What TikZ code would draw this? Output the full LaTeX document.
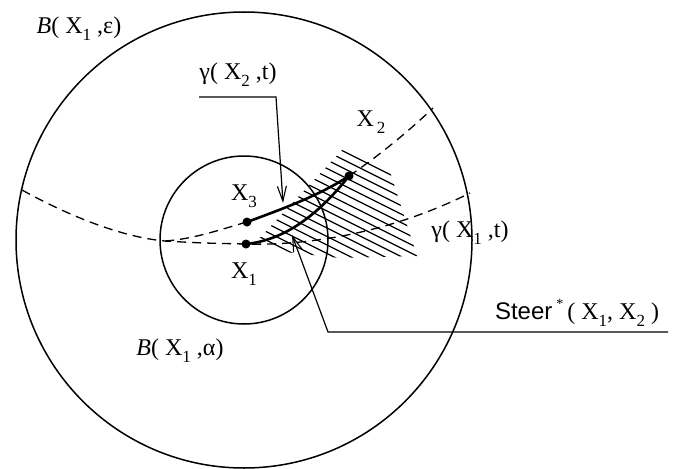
\documentclass[tikz,border=0pt]{standalone}
\usepackage{fontspec}
\setmainfont{Liberation Serif}
\newfontfamily\arialf{Liberation Sans}
\usetikzlibrary{arrows.meta}
\newcommand{\lowi}[1]{\raisebox{-0.28em}{\fontsize{17}{17}\selectfont #1}}
\tikzset{
  circ/.style={line width=1.5pt},
  traj/.style={line width=2.6pt},
  dsh/.style={line width=1.3pt, dash pattern=on 9pt off 6pt},
  hatch/.style={line width=1.2pt},
  lead/.style={line width=1.2pt},
  dot/.style={circle, fill=black, inner sep=0pt, minimum size=9pt},
  lbl/.style={inner sep=0pt, font=\fontsize{24}{26}\selectfont},
  tip/.style={-{Straight Barb[length=15pt,width=9pt,line width=1.1pt]}}
}
\begin{document}
\begin{tikzpicture}[x=1pt,y=-1pt]
\useasboundingbox (0,0) rectangle (679,468);
% circles
\coordinate (C) at (244,240);
\draw[circ] (C) circle[radius=228];
\draw[circ] (C) circle[radius=84];
% points
\node[dot] (X1) at (246,244) {};
\node[dot] (X3) at (247,222) {};
\node[dot] (X2) at (349,176) {};
\coordinate (L) at (22,190);
\coordinate (M) at (165,241);
\coordinate (R1) at (470,193);
\coordinate (R2) at (433,108);
% hatching
\begin{scope}
  \clip (256,242) -- (345,147) -- (390,172) -- (417,256) -- (340,258) -- (285,252) -- cycle;
  \foreach \k in {40,48.5,...,290} {
    \draw[hatch] (240,\k) -- (440,\k+100);
  }
\end{scope}
% dashed trajectories
\draw[dsh] (L) .. controls (80,222) and (130,238) .. (M)
  .. controls (200,243) .. (X1.center)
  .. controls (320,246) and (400,228) .. (R1);
\draw[dsh] (M) .. controls (195,239) and (225,228) .. (X3.center);
\draw[dsh] (X2.center) .. controls (380,155) and (410,130) .. (R2);
% solid trajectories
\draw[traj] (X3.center) .. controls (285,208) and (320,195) .. (X2.center);
\draw[traj] (X1.center) .. controls (285,240) and (318,215) .. (X2.center);
% labels
\node[lbl] (lB) at (79,29) {\textit{B}( X\lowi{1} ,ε)};
\node[lbl] (lg2) at (238,75) {γ( X\lowi{2} ,t)};
\node[lbl] (lX2) at (371,122) {X\lowi{\,2}};
\node[lbl] (lX3) at (244,196) {X\lowi{3}};
\node[lbl] (lX1) at (244,274) {X\lowi{1}};
\node[lbl] (lg1) at (470,233) {γ( X\lowi{1} ,t)};
\node[lbl] (lS) at (577,313) {{\arialf Steer}\,\raisebox{0.45em}{\fontsize{14}{14}\selectfont *}\,( X\lowi{1}, X\lowi{2} )};
\node[lbl] (lBa) at (180,351) {\textit{B}( X\lowi{1} ,α)};
% leaders
\coordinate (g2a) at (199,97);
\coordinate (g2b) at (276,97);
\coordinate (g2t) at (283,203);
\draw[lead,tip] (g2a) -- (g2b) -- (g2t);
\coordinate (sa) at (668,332);
\coordinate (sb) at (328,332);
\coordinate (st) at (292,235);
\draw[lead,tip] (sa) -- (sb) -- (st);
\end{tikzpicture}
\end{document}
